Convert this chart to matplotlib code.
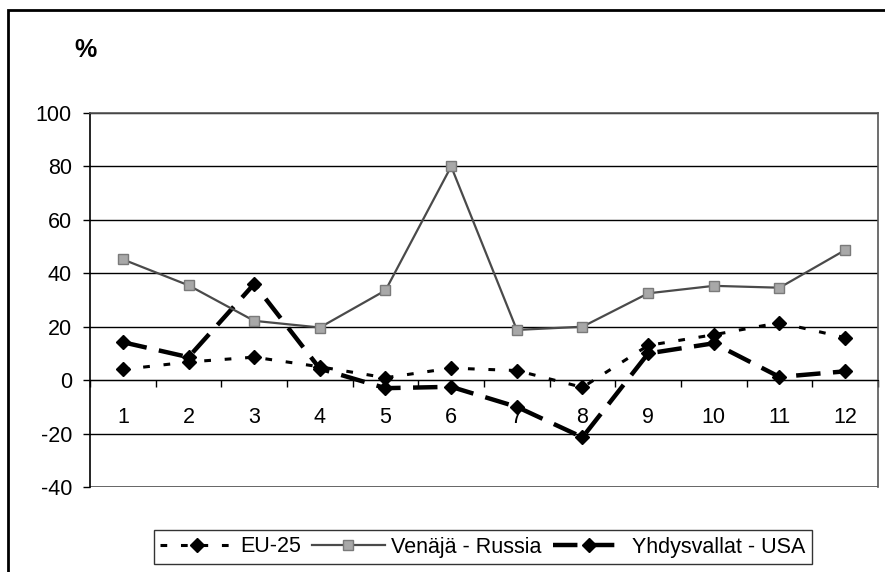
import matplotlib
matplotlib.use("Agg")
import matplotlib.pyplot as plt
from matplotlib.patches import Rectangle

# Monthly change, %
months = [1, 2, 3, 4, 5, 6, 7, 8, 9, 10, 11, 12]
eu25 = [4.0, 6.8, 8.6, 5.0, 0.9, 4.5, 3.6, -2.7, 13.0, 17.0, 21.5, 15.9]
russia = [45.2, 35.5, 22.2, 19.7, 33.6, 80.0, 18.8, 20.0, 32.5, 35.3, 34.6, 48.7]
usa = [14.2, 8.6, 36.0, 4.3, -3.0, -2.5, -10.0, -21.4, 10.0, 13.8, 1.2, 3.3]
yticks = [-40, -20, 0, 20, 40, 60, 80, 100]

plt.rcParams["font.family"] = ["Liberation Sans", "DejaVu Sans"]
plt.rcParams["axes.unicode_minus"] = False

fig = plt.figure(figsize=(8.85, 5.72), dpi=100)
ax = fig.add_axes([90 / 885, 1 - 487 / 572, (878 - 90) / 885, (487 - 113) / 572])

ax.plot(months, eu25, color="black", linewidth=2.2, dashes=(2.2, 4.5),
        marker="D", markersize=7.5, label="EU-25", zorder=3)
ax.plot(months, russia, color="#4a4a4a", linewidth=1.6, marker="s",
        markersize=7.5, markerfacecolor="#a8a8a8", markeredgecolor="#7a7a7a",
        label="Venäjä - Russia", zorder=4)
ax.plot(months, usa, color="black", linewidth=3.2, dashes=(5.5, 2.8),
        marker="D", markersize=7.5, label="Yhdysvallat - USA", zorder=3)

ax.set_xlim(0.5, 12.5)
ax.set_ylim(-40, 100)
ax.set_yticks(yticks)
ax.yaxis.grid(True, color="black", linewidth=1.0)
ax.set_axisbelow(True)
ax.axhline(-40, color="#555555", linewidth=1.2, zorder=1)
ax.tick_params(axis="y", labelsize=15.5, length=5, direction="out", width=1, pad=8)

# category axis sits on the zero line, ticks between categories
ax.spines["bottom"].set_position(("data", 0))
ax.set_xticks([i + 0.5 for i in range(0, 13)])
ax.set_xticklabels([])
ax.set_xticks(months, minor=True)
ax.set_xticklabels([str(m) for m in months], minor=True)
ax.tick_params(axis="x", which="major", length=5, direction="out", width=1)
ax.tick_params(axis="x", which="minor", length=0, labelsize=15.5, pad=19)

ax.spines["left"].set_linewidth(1.2)
for s in ["top", "right"]:
    ax.spines[s].set_color("#555555")
    ax.spines[s].set_linewidth(1.2)

fig.text(74 / 885, 1 - 50 / 572, "%", fontsize=18, fontweight="bold",
         ha="left", va="center")

leg = fig.legend(loc="center", bbox_to_anchor=(483 / 885, 1 - 547 / 572),
                 ncol=3, fontsize=15.5, frameon=True, fancybox=False,
                 edgecolor="black", handlelength=3.4, columnspacing=0.5,
                 handletextpad=0.3, borderpad=0.3)
leg.get_frame().set_linewidth(1.0)

# outer chart frame (only left and top visible in the picture)
fig.patches.append(Rectangle((8 / 885, -0.2), 1.2, 1.2 - 10 / 572,
                             transform=fig.transFigure, fill=False,
                             edgecolor="black", linewidth=2.0))

fig.savefig("out.png", dpi=100)
